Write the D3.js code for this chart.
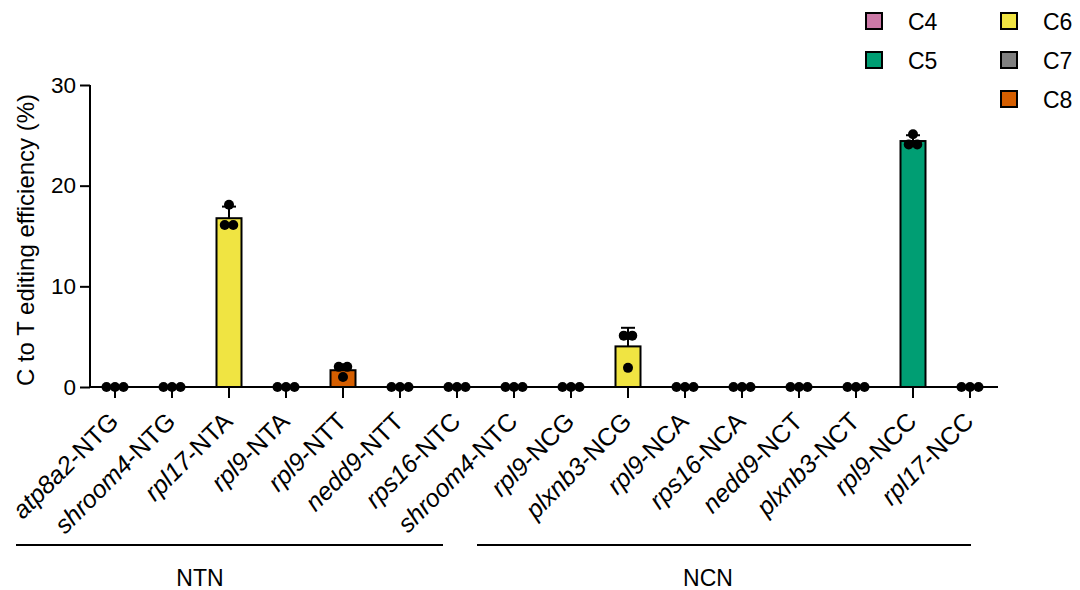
<!DOCTYPE html>
<html>
<head>
<meta charset="utf-8">
<script src="https://cdn.jsdelivr.net/npm/d3@7"></script>
<style>
  body { margin: 0; background: #fff; }
  svg { font-family: "Liberation Sans", Arial, sans-serif; }
</style>
</head>
<body>
<svg id="chart" width="1080" height="590"></svg>
<script>
// gene part (italic) and motif part of each x label
const genes = ['atp8a2', 'shroom4', 'rpl17', 'rpl9', 'rpl9', 'nedd9', 'rps16', 'shroom4',
  'rpl9', 'plxnb3', 'rpl9', 'rps16', 'nedd9', 'plxnb3', 'rpl9', 'rpl17'];
const motifs = ['NTG', 'NTG', 'NTA', 'NTA', 'NTT', 'NTT', 'NTC', 'NTC',
  'NCG', 'NCG', 'NCA', 'NCA', 'NCT', 'NCT', 'NCC', 'NCC'];
// edited C position for each target (drives bar colour)
const positions = ['C6', 'C6', 'C6', 'C6', 'C8', 'C8', 'C6', 'C6',
  'C6', 'C6', 'C6', 'C6', 'C6', 'C6', 'C5', 'C5'];
// three replicates per target (%)
const replicates = [
  [0, 0, 0], [0, 0, 0], [18.1, 16.1, 16.1], [0, 0, 0],
  [2.0, 2.0, 1.0], [0, 0, 0], [0, 0, 0], [0, 0, 0],
  [0, 0, 0], [5.1, 5.1, 1.9], [0, 0, 0], [0, 0, 0],
  [0, 0, 0], [0, 0, 0], [25.1, 24.1, 24.1], [0, 0, 0]
];
const legendKeys = ['C4', 'C5', 'C6', 'C7', 'C8'];
const legendColors = ['#cc79a7', '#009e73', '#f0e442', '#808080', '#d55e00'];
const groups = ['NTN', 'NCN'];
const yTicks = [0, 10, 20, 30];

const svg = d3.select('#chart');
const labels = genes.map((g, i) => `${g}-${motifs[i]}`);

const axisLeft = 90, axisRight = 998;
const x = d3.scaleBand().domain(labels).range([86.5, 998.5]);
const y = d3.scaleLinear().domain([0, 30]).range([387, 85]);
const color = d3.scaleOrdinal().domain(legendKeys).range(legendColors);

const barW = 25;
const R = 5;

const rows = labels.map((lab, i) => ({
  label: lab,
  gene: genes[i],
  motif: motifs[i],
  pos: positions[i],
  vals: replicates[i],
  mean: d3.mean(replicates[i]),
  sd: d3.deviation(replicates[i])
}));

// bars
const plot = svg.append('g');
plot.selectAll('rect.bar')
  .data(rows.filter((d) => d.mean > 0))
  .join('rect')
  .attr('class', 'bar')
  .attr('x', (d) => x(d.label) + x.bandwidth() / 2 - barW / 2)
  .attr('y', (d) => y(d.mean))
  .attr('width', barW)
  .attr('height', (d) => y(0) - y(d.mean))
  .attr('fill', (d) => color(d.pos))
  .attr('stroke', '#000')
  .attr('stroke-width', 2);

// error bars (mean + SD, upward only)
const eb = plot.selectAll('g.err')
  .data(rows.filter((d) => d.sd > 0))
  .join('g')
  .attr('class', 'err')
  .attr('transform', (d) => `translate(${x(d.label) + x.bandwidth() / 2},0)`);
eb.append('line')
  .attr('y1', (d) => y(d.mean))
  .attr('y2', (d) => y(d.mean + d.sd))
  .attr('stroke', '#000').attr('stroke-width', 2);
eb.append('line')
  .attr('x1', -7).attr('x2', 7)
  .attr('y1', (d) => y(d.mean + d.sd))
  .attr('y2', (d) => y(d.mean + d.sd))
  .attr('stroke', '#000').attr('stroke-width', 2);

// axes
svg.append('line')
  .attr('x1', axisLeft).attr('x2', axisRight)
  .attr('y1', y(0)).attr('y2', y(0))
  .attr('stroke', '#000').attr('stroke-width', 2);

const yAxis = svg.append('g')
  .attr('transform', `translate(${axisLeft},0)`)
  .call(d3.axisLeft(y).tickValues(yTicks).tickSize(10).tickPadding(4).tickFormat(d3.format('d')));
yAxis.select('.domain').attr('stroke-width', 2).attr('d', `M-0,${y(30)}V${y(0)}`);
yAxis.selectAll('.tick line').attr('stroke-width', 2);
yAxis.selectAll('.tick text')
  .attr('font-size', 22.5)
  .attr('fill', '#000')
  .attr('font-family', '"Liberation Sans", Arial, sans-serif');

svg.append('text')
  .attr('transform', `translate(34,${(y(0) + y(30)) / 2 + 4}) rotate(-90)`)
  .attr('text-anchor', 'middle')
  .attr('font-size', 24)
  .text('C to T editing efficiency (%)');

// x ticks
svg.append('g').selectAll('line')
  .data(labels)
  .join('line')
  .attr('x1', (d) => x(d) + x.bandwidth() / 2)
  .attr('x2', (d) => x(d) + x.bandwidth() / 2)
  .attr('y1', y(0)).attr('y2', y(0) + 11)
  .attr('stroke', '#000').attr('stroke-width', 2);

// dots: simple centred spread for points that overlap
const dots = [];
rows.forEach((d) => {
  const cx = x(d.label) + x.bandwidth() / 2;
  const sorted = d.vals.slice().sort((a, b) => a - b);
  let cluster = [];
  const flush = () => {
    cluster.forEach((v, k) => {
      dots.push({ cx: cx + (k - (cluster.length - 1) / 2) * 8.5, v });
    });
    cluster = [];
  };
  sorted.forEach((v) => {
    if (cluster.length && Math.abs(y(v) - y(cluster[0])) >= 2 * R) flush();
    cluster.push(v);
  });
  flush();
});
plot.selectAll('circle')
  .data(dots)
  .join('circle')
  .attr('cx', (d) => d.cx)
  .attr('cy', (d) => y(d.v))
  .attr('r', R)
  .attr('fill', '#000');

// x labels
const xl = svg.append('g').selectAll('text')
  .data(rows)
  .join('text')
  .attr('transform', (d) => `translate(${x(d.label) + x.bandwidth() / 2 + 5},423) rotate(-45)`)
  .attr('text-anchor', 'end')
  .attr('font-size', 25);
xl.append('tspan').attr('font-style', 'italic').text((d) => d.gene);
xl.append('tspan').text((d) => `-${d.motif}`);

// group brackets
const groupLines = [[16, 443], [477, 971]];
const groupLabelX = [200, 708];
groups.forEach((g, i) => {
  svg.append('line')
    .attr('x1', groupLines[i][0]).attr('x2', groupLines[i][1])
    .attr('y1', 545).attr('y2', 545)
    .attr('stroke', '#000').attr('stroke-width', 2);
  svg.append('text')
    .attr('x', groupLabelX[i]).attr('y', 586)
    .attr('text-anchor', 'middle')
    .attr('font-size', 23)
    .text(g);
});

// legend
const legend = svg.append('g');
legendKeys.forEach((k, i) => {
  const col = i < 2 ? 0 : 1;
  const row = i < 2 ? i : i - 2;
  const lx = col === 0 ? 866 : 1001;
  const cy = 21 + row * 39;
  legend.append('rect')
    .attr('x', lx).attr('y', cy - 8)
    .attr('width', 16).attr('height', 16)
    .attr('fill', color(k))
    .attr('stroke', '#000').attr('stroke-width', 2);
  legend.append('text')
    .attr('x', lx + 42).attr('y', cy + 8.5)
    .attr('font-size', 23)
    .text(k);
});
</script>
</body>
</html>
